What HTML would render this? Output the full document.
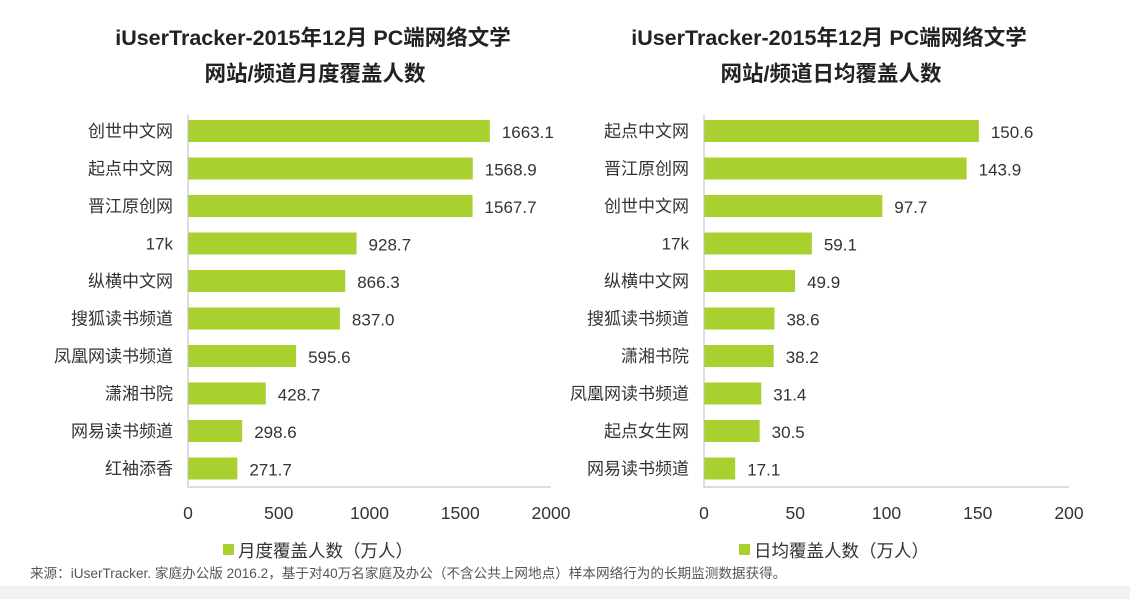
<!DOCTYPE html>
<html><head><meta charset="utf-8"><style>
body{margin:0;width:1130px;height:599px;background:#fff;overflow:hidden;font-family:"Liberation Sans","Noto Sans CJK SC",sans-serif}
svg text{font-family:"Liberation Sans","Noto Sans CJK SC",sans-serif}
</style></head><body>
<svg id="c" width="1130" height="599">
<rect x="0" y="586" width="1130" height="13" fill="#f2f2f2"/>
<text x="30" y="578" font-size="13.6" fill="#555">来源：iUserTracker. 家庭办公版 2016.2，基于对40万名家庭及办公（不含公共上网地点）样本网络行为的长期监测数据获得。</text>
</svg>
<script>
const leftCats=["创世中文网","起点中文网","晋江原创网","17k","纵横中文网","搜狐读书频道","凤凰网读书频道","潇湘书院","网易读书频道","红袖添香"];
const leftVals=[1663.1,1568.9,1567.7,928.7,866.3,837.0,595.6,428.7,298.6,271.7];
const leftTicks=[0,500,1000,1500,2000];
const rightCats=["起点中文网","晋江原创网","创世中文网","17k","纵横中文网","搜狐读书频道","潇湘书院","凤凰网读书频道","起点女生网","网易读书频道"];
const rightVals=[150.6,143.9,97.7,59.1,49.9,38.6,38.2,31.4,30.5,17.1];
const rightTicks=[0,50,100,150,200];
const svg=document.getElementById('c');
const NS='http://www.w3.org/2000/svg';
function mk(t,a,txt){const e=document.createElementNS(NS,t);for(const k in a)e.setAttribute(k,a[k]);if(txt!==undefined)e.textContent=txt;svg.appendChild(e);return e;}
function chart(prefix,x0,x1,max,cats,vals,ticks,title1,title2,legend,tc,lsx){
  const sx=v=>x0+(x1-x0)*v/max;
  const cy=i=>131+i*37.5;
  let e=mk('text',{x:tc,y:45,'font-size':21.5,'font-weight':'bold','text-anchor':'middle',fill:'#222'},title1);
  
  
  e=mk('text',{x:tc+2,y:81,'font-size':21.5,'font-weight':'bold','text-anchor':'middle',fill:'#222'},title2);
  
  
  cats.forEach((c,i)=>{
    let b=mk('rect',{x:x0,y:cy(i)-11,width:sx(vals[i])-x0,height:22,fill:'#a8d02f'});
    
    
    let l=mk('text',{x:x0-15,y:cy(i)+6,'font-size':17,'text-anchor':'end',fill:'#333'},c);
    
    
    let v=mk('text',{x:sx(vals[i])+12,y:cy(i)+7,'font-size':17,fill:'#333'},vals[i].toFixed(1));
    
    
  });
  let a=mk('path',{d:`M${x0} 115V487H${x1}`,stroke:'#bbb',fill:'none','stroke-width':1});
  
  
  ticks.forEach(t=>{
    let tt=mk('text',{x:sx(t),y:519,'font-size':17.5,'text-anchor':'middle',fill:'#333'},String(t));
    
    
  });
  let ls=mk('rect',{x:lsx,y:544,width:11,height:11,fill:'#a8d02f'});
  
  
  let lt=mk('text',{x:lsx+15,y:557,'font-size':17.5,fill:'#333'},legend);
  
  
}
chart('left',188,551,2000,leftCats,leftVals,leftTicks,'iUserTracker-2015年12月 PC端网络文学','网站/频道月度覆盖人数','月度覆盖人数（万人）',313,223);
chart('right',704,1069,200,rightCats,rightVals,rightTicks,'iUserTracker-2015年12月 PC端网络文学','网站/频道日均覆盖人数','日均覆盖人数（万人）',829,739);
</script>
</body></html>
